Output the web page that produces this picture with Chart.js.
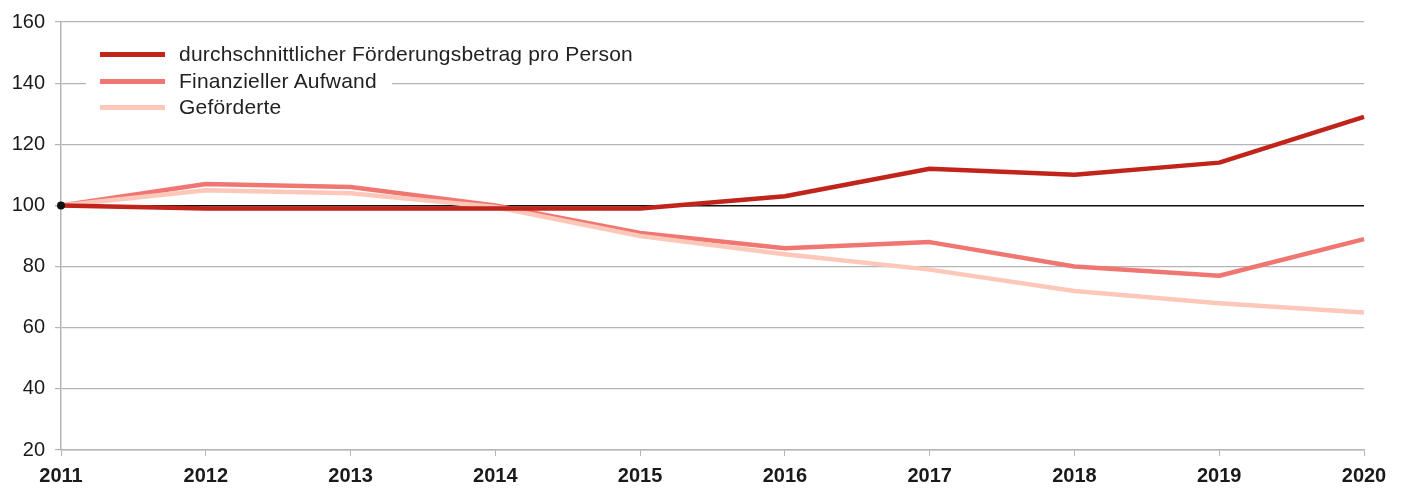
<!DOCTYPE html>
<html>
<head>
<meta charset="utf-8">
<script src="https://cdn.jsdelivr.net/npm/chart.js@4/dist/chart.umd.min.js"></script>
<style>
  html, body { margin: 0; padding: 0; background: #fff; }
  #wrap { position: relative; width: 1405px; height: 488px; }
  #legend { position: absolute; left: 86px; top: 41px; width: 306px; background: #fff;
            font-family: "Liberation Sans", Arial, sans-serif; font-size: 21px; letter-spacing: 0.2px; color: #222; }
  .row { position: relative; height: 26.7px; line-height: 26.7px; }
  .sw { position: absolute; left: 14px; top: 11px; width: 65px; height: 5px; }
  .lbl { position: absolute; left: 93px; top: 0; white-space: nowrap; }
</style>
</head>
<body>
<div id="wrap">
  <canvas id="c" width="1405" height="488"></canvas>
  <div id="legend"></div>
</div>
<script>
const years = ['2011','2012','2013','2014','2015','2016','2017','2018','2019','2020'];
const seriesNames = ['durchschnittlicher Förderungsbetrag pro Person', 'Finanzieller Aufwand', 'Geförderte'];
const foerderBetrag = [100, 99, 99, 99, 99, 103, 112, 110, 114, 129];
const finanzAufwand = [100, 107, 106, 100, 91, 86, 88, 80, 77, 89];
const gefoerderte   = [100, 105, 104, 99.5, 90, 84, 79, 72, 68, 65];
const yTicks = [20, 40, 60, 80, 100, 120, 140, 160];
const colors = ['#c0241a', '#f07672', '#fdc7ba'];

const datasets = [
  { label: seriesNames[0], data: foerderBetrag, borderColor: colors[0], order: 0,
    pointRadius: (c) => c.dataIndex === 0 ? 4 : 0, pointBackgroundColor: '#111', pointBorderWidth: 0 },
  { label: seriesNames[1], data: finanzAufwand, borderColor: colors[1], order: 2, pointRadius: 0 },
  { label: seriesNames[2], data: gefoerderte, borderColor: colors[2], order: 1, pointRadius: 0 }
].map(d => Object.assign({ borderWidth: 4.5, tension: 0, fill: false, borderJoinStyle: 'round', pointHoverRadius: 0 }, d));

const gridGray = '#b5b5b5';
new Chart(document.getElementById('c'), {
  type: 'line',
  data: { labels: years, datasets },
  options: {
    responsive: false,
    animation: false,
    layout: { padding: { top: 19, right: 41, left: 0, bottom: 0 } },
    plugins: { legend: { display: false }, tooltip: { enabled: false } },
    scales: {
      x: {
        offset: false,
        grid: { drawOnChartArea: false, drawTicks: true, tickLength: 6, color: gridGray, tickColor: gridGray },
        border: { color: gridGray, width: 1.5 },
        ticks: { color: '#1a1a1a', padding: 8, maxRotation: 0, autoSkip: false,
                 font: { family: '"Liberation Sans", Arial, sans-serif', size: 20, weight: 'bold' } },
        afterFit: (s) => { s.height = 38; }
      },
      y: {
        min: 20, max: 160,
        afterBuildTicks: (s) => { s.ticks = yTicks.map(v => ({ value: v })); },
        grid: { color: (c) => (c.tick && c.tick.value === 100) ? '#111' : gridGray,
                lineWidth: (c) => (c.tick && c.tick.value === 100) ? 1.5 : 1.2,
                tickColor: gridGray, tickLength: 6 },
        border: { color: gridGray, width: 1.5 },
        ticks: { color: '#1a1a1a', padding: 10,
                 font: { family: '"Liberation Sans", Arial, sans-serif', size: 20 } },
        afterFit: (s) => { s.width = 61; }
      }
    }
  }
});

const leg = document.getElementById('legend');
datasets.forEach(d => {
  const row = document.createElement('div'); row.className = 'row';
  const sw = document.createElement('div'); sw.className = 'sw'; sw.style.background = d.borderColor;
  const lb = document.createElement('div'); lb.className = 'lbl'; lb.textContent = d.label;
  row.appendChild(sw); row.appendChild(lb); leg.appendChild(row);
});
</script>
</body>
</html>
